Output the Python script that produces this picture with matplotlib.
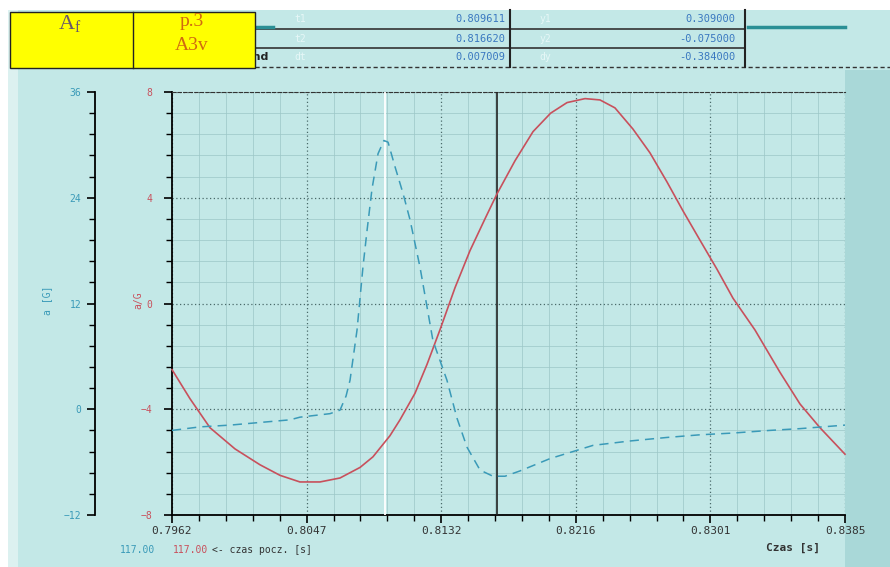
import numpy as np
import matplotlib
matplotlib.use("Agg")
import matplotlib.pyplot as plt
from matplotlib.patches import Rectangle
from matplotlib.lines import Line2D
from matplotlib.ticker import MultipleLocator, FixedLocator, AutoMinorLocator

# ---------------- data ----------------
x_ticks = [0.7962, 0.80466, 0.81312, 0.82158, 0.83004, 0.8385]
x_tick_labels = ["0.7962", "0.8047", "0.8132", "0.8216", "0.8301", "0.8385"]

red_t = [0.79620, 0.79733, 0.79859, 0.80016, 0.80173, 0.80299, 0.80424, 0.80550,
         0.80676, 0.80802, 0.80883, 0.80990, 0.81053, 0.81147, 0.81223, 0.81304,
         0.81399, 0.81493, 0.81587, 0.81663, 0.81776, 0.81889, 0.82000, 0.82103,
         0.82216, 0.82310, 0.82404, 0.82517, 0.82624, 0.82731, 0.82832, 0.82938,
         0.83045, 0.83146, 0.83284, 0.83441, 0.83567, 0.83693, 0.83850]
red_v = [-2.5, -3.6, -4.7, -5.5, -6.1, -6.5, -6.75, -6.75,
         -6.6, -6.2, -5.8, -5.0, -4.4, -3.4, -2.3, -1.0,
         0.6, 2.0, 3.2, 4.15, 5.4, 6.5, 7.2, 7.6,
         7.75, 7.7, 7.4, 6.6, 5.7, 4.6, 3.5, 2.4,
         1.3, 0.2, -1.0, -2.6, -3.8, -4.7, -5.7]

blue_t = [0.79620, 0.79796, 0.79985, 0.80173, 0.80362, 0.80424, 0.80613, 0.80676,
          0.80714, 0.80739, 0.80783, 0.80820, 0.80846, 0.80877, 0.80915, 0.80952,
          0.80978, 0.81022, 0.81072, 0.81116, 0.81179, 0.81260, 0.81348, 0.81411,
          0.81474, 0.81556, 0.81637, 0.81713, 0.81807, 0.81996, 0.82266, 0.82499,
          0.82731, 0.82938, 0.83146, 0.83378, 0.83567, 0.83850]
blue_v = [-2.4, -2.0, -1.8, -1.5, -1.2, -0.9, -0.5, -0.1,
          1.5, 3.3, 9.0, 16.1, 20.3, 25.0, 29.0, 30.5,
          30.3, 27.5, 24.5, 21.5, 16.1, 7.8, 3.3, -1.0,
          -4.3, -6.9, -7.6, -7.6, -7.0, -5.6, -4.1, -3.6,
          -3.2, -2.9, -2.7, -2.4, -2.2, -1.8]

cursor1 = 0.809611
cursor2 = 0.816620

table_labels_1 = ["t1", "t2", "dt"]
table_values_1 = ["0.809611", "0.816620", "0.007009"]
table_labels_2 = ["y1", "y2", "dy"]
table_values_2 = ["0.309000", "-0.075000", "-0.384000"]

# ---------------- styling ----------------
BG = "#c3e8e7"
RED = "#c8505c"
BLUE = "#3a9ab8"
MONO = "DejaVu Sans Mono"

W, H = 890, 567
fig = plt.figure(figsize=(W / 100, H / 100), dpi=100, facecolor="white")

def fx(px):
    return px / W

def fy(py):
    return 1 - py / H

# background panel
fig.patches.append(Rectangle((fx(8), 0), fx(890 - 8), fy(10), transform=fig.transFigure,
                             facecolor=BG, edgecolor="none", zorder=-10))
fig.patches.append(Rectangle((fx(8), 0), fx(10), fy(10), transform=fig.transFigure,
                             facecolor="#dcf1f0", edgecolor="none", zorder=-9))
fig.patches.append(Rectangle((fx(845), 0), fx(45), fy(70), transform=fig.transFigure,
                             facecolor="#a9d8d8", edgecolor="none", zorder=-9))

L, R, T, B = 172, 845, 92, 515
ax = fig.add_axes([fx(L), fy(B), fx(R - L), (B - T) / H])
ax.set_facecolor("none")
ax.set_xlim(0.7962, 0.8385)
ax.set_ylim(-8, 8)

ax2 = ax.twinx()
ax2.set_ylim(-12, 36)

# grid
ax.xaxis.set_major_locator(FixedLocator(x_ticks))
ax.set_xticklabels(x_tick_labels)
minor_x = []
for i in range(len(x_ticks) - 1):
    minor_x += list(np.linspace(x_ticks[i], x_ticks[i + 1], 6)[1:-1])
ax.xaxis.set_minor_locator(FixedLocator(minor_x))
ax.yaxis.set_major_locator(MultipleLocator(4))
ax.yaxis.set_minor_locator(MultipleLocator(0.8))
ax.grid(which="major", color="#4a6a6a", linestyle=(0, (1, 2)), linewidth=0.9, zorder=0)
ax.grid(which="minor", color="#9cc6c6", linestyle="-", linewidth=0.5, zorder=0)
ax.set_axisbelow(True)

# spines
for s in ["right"]:
    ax.spines[s].set_visible(False)
    ax2.spines[s].set_visible(False)
ax.spines["top"].set_linestyle((0, (3, 2)))
ax.spines["top"].set_color("#333333")
ax2.spines["top"].set_visible(False)
ax2.spines["bottom"].set_visible(False)
ax.spines["left"].set_linewidth(1.3)
ax.spines["bottom"].set_linewidth(1.3)

# red axis ticks
ax.tick_params(axis="y", which="major", direction="out", length=6, width=1.2,
               labelsize=7, labelcolor=RED, pad=8)
ax.tick_params(axis="y", which="minor", direction="out", length=4, width=1)
ax.tick_params(axis="x", which="major", direction="out", length=6, width=1.2,
               labelsize=8, labelcolor="#333333", pad=2)
ax.tick_params(axis="x", which="minor", direction="out", length=4, width=1)
for lab in ax.get_xticklabels() + ax.get_yticklabels():
    lab.set_fontfamily(MONO)

# blue axis on the far left
ax2.spines["left"].set_position(("axes", (95 - L) / (R - L)))
ax2.spines["left"].set_visible(True)
ax2.spines["left"].set_linewidth(1.3)
ax2.yaxis.set_ticks_position("left")
ax2.yaxis.set_label_position("left")
ax2.yaxis.set_major_locator(MultipleLocator(12))
ax2.yaxis.set_minor_locator(MultipleLocator(2.4))
ax2.tick_params(axis="y", which="major", direction="out", length=6, width=1.2,
                labelsize=7, labelcolor=BLUE, pad=4)
ax2.tick_params(axis="y", which="minor", direction="out", length=4, width=1)
for lab in ax2.get_yticklabels():
    lab.set_fontfamily(MONO)

# curves
ax.plot(red_t, red_v, color=RED, linewidth=1.2, zorder=5, clip_on=False)
ax2.plot(blue_t, blue_v, color=BLUE, linewidth=1.1, linestyle=(0, (6, 4)), zorder=4)

# cursors
ax.axvline(cursor1, color="white", linewidth=1.3, zorder=3)
ax.axvline(cursor2, color="#222222", linewidth=1.2, zorder=3)

# axis names
fig.text(fx(47), fy(300), "a [G]", rotation=90, color=BLUE, fontsize=7,
         family=MONO, ha="center", va="center")
fig.text(fx(138), fy(300), "a/G", rotation=90, color=RED, fontsize=7,
         family=MONO, ha="center", va="center")

# bottom texts
fig.text(fx(137), fy(550), "117.00", color=BLUE, fontsize=7, family=MONO,
         ha="center", va="center")
fig.text(fx(190), fy(550), "117.00", color=RED, fontsize=7, family=MONO,
         ha="center", va="center")
fig.text(fx(212), fy(550), "<- czas pocz. [s]", color="#333333", fontsize=7,
         family=MONO, ha="left", va="center")
fig.text(fx(820), fy(548), "Czas [s]", color="#333333", fontsize=8,
         family=MONO, fontweight="bold", ha="right", va="center")

# ---------------- top table ----------------
tl, tr, tt, tb = 200, 745, 10, 67
rows_y = [10, 29, 48, 67]
for yy in rows_y[1:-1]:
    fig.lines.append(Line2D([fx(255), fx(745)], [fy(yy), fy(yy)],
                            transform=fig.transFigure, color="#333333", linewidth=1.2))
fig.lines.append(Line2D([fx(255), fx(890)], [fy(67), fy(67)],
                        transform=fig.transFigure, color="#333333", linewidth=1.0,
                        linestyle=(0, (3, 2))))
for xx in [510, 745]:
    fig.lines.append(Line2D([fx(xx), fx(xx)], [fy(10), fy(67)],
                            transform=fig.transFigure, color="#222222", linewidth=1.5))
# hidden legend stub and text behind the yellow box
fig.lines.append(Line2D([fx(200), fx(273)], [fy(27), fy(27)],
                        transform=fig.transFigure, color="#2a8f95", linewidth=2.5))
fig.text(fx(268), fy(57), "End", color="#222222", fontsize=8, fontweight="bold",
         ha="right", va="center")
fig.lines.append(Line2D([fx(748), fx(845)], [fy(27), fy(27)],
                        transform=fig.transFigure, color="#2a8f95", linewidth=2.5))

for i in range(3):
    yc = (rows_y[i] + rows_y[i + 1]) / 2
    fig.text(fx(300), fy(yc), table_labels_1[i], color="#e6f7f7", fontsize=7,
             family=MONO, ha="center", va="center")
    fig.text(fx(505), fy(yc), table_values_1[i], color="#3a78c0", fontsize=7.5,
             family=MONO, ha="right", va="center")
    fig.text(fx(545), fy(yc), table_labels_2[i], color="#e6f7f7", fontsize=7,
             family=MONO, ha="center", va="center")
    fig.text(fx(735), fy(yc), table_values_2[i], color="#3a78c0", fontsize=7.5,
             family=MONO, ha="right", va="center")

# yellow label box
fig.patches.append(Rectangle((fx(10), fy(68)), fx(245), (68 - 12) / H,
                             transform=fig.transFigure, facecolor="#ffff00",
                             edgecolor="#222222", linewidth=1.0, zorder=5))
fig.lines.append(Line2D([fx(133), fx(133)], [fy(12), fy(68)], transform=fig.transFigure,
                        color="#222222", linewidth=1.0, zorder=6))
fig.text(fx(70), fy(24), r"A$_\mathregular{f}$", color="#6a5a6a", fontsize=16,
         family="Liberation Serif", ha="center", va="center", zorder=7)
fig.text(fx(192), fy(22), "p.3", color="#d06a10", fontsize=14,
         family="Liberation Serif", ha="center", va="center", zorder=7)
fig.text(fx(192), fy(45), "A3v", color="#d06a10", fontsize=14,
         family="Liberation Serif", ha="center", va="center", zorder=7)

fig.savefig("out.png", dpi=100, facecolor=fig.get_facecolor())
